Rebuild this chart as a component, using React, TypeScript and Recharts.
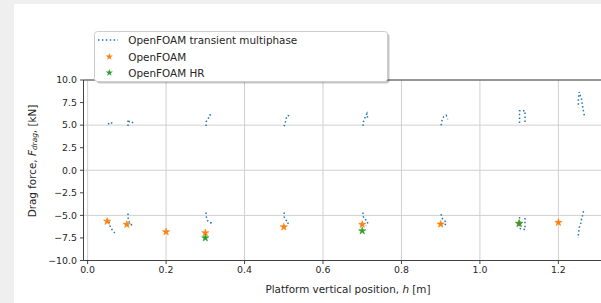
/* Drag force vs platform vertical position — transient multiphase runs vs steady OpenFOAM */

import {
  ScatterChart,
  Scatter,
  XAxis,
  YAxis,
  CartesianGrid,
  ReferenceLine,
} from "recharts";

type Pt = { h: number; f: number };

// transient multiphase traces, upper branch (one short dotted trace per height)
const TRANSIENT_UP_005: Pt[] = [
  { h: 0.0535, f: 5.06 }, { h: 0.0535, f: 5.24 }, { h: 0.062, f: 5.24 }, { h: 0.066, f: 5.17 },
];
const TRANSIENT_UP_010: Pt[] = [
  { h: 0.103, f: 4.91 }, { h: 0.103, f: 5.61 }, { h: 0.107, f: 5.35 }, { h: 0.113, f: 5.24 }, { h: 0.117, f: 5.35 },
];
const TRANSIENT_UP_030: Pt[] = [
  { h: 0.302, f: 4.91 }, { h: 0.302, f: 5.35 }, { h: 0.307, f: 5.73 }, { h: 0.313, f: 6.09 }, { h: 0.31, f: 6.28 },
];
const TRANSIENT_UP_050: Pt[] = [
  { h: 0.501, f: 4.87 }, { h: 0.504, f: 5.35 }, { h: 0.506, f: 5.73 }, { h: 0.51, f: 6.09 }, { h: 0.515, f: 5.98 },
];
const TRANSIENT_UP_070: Pt[] = [
  { h: 0.702, f: 4.91 }, { h: 0.703, f: 5.35 }, { h: 0.707, f: 5.84 }, { h: 0.712, f: 6.28 }, { h: 0.714, f: 5.73 },
];
const TRANSIENT_UP_090: Pt[] = [
  { h: 0.901, f: 4.98 }, { h: 0.903, f: 5.46 }, { h: 0.907, f: 5.9 }, { h: 0.914, f: 6.09 }, { h: 0.918, f: 5.65 },
];
const TRANSIENT_UP_110: Pt[] = [
  { h: 1.101, f: 5.24 }, { h: 1.101, f: 6.59 }, { h: 1.115, f: 6.59 }, { h: 1.115, f: 5.24 },
];
const TRANSIENT_UP_125: Pt[] = [
  { h: 1.266, f: 6.09 }, { h: 1.262, f: 7.0 }, { h: 1.259, f: 7.9 }, { h: 1.253, f: 8.67 }, { h: 1.251, f: 7.8 }, { h: 1.251, f: 6.98 },
];

// transient multiphase traces, lower branch
const TRANSIENT_LO_005: Pt[] = [
  { h: 0.054, f: -5.7 }, { h: 0.058, f: -6.3 }, { h: 0.064, f: -6.7 }, { h: 0.069, f: -6.94 },
];
const TRANSIENT_LO_010: Pt[] = [
  { h: 0.103, f: -4.8 }, { h: 0.103, f: -5.17 }, { h: 0.104, f: -5.54 }, { h: 0.109, f: -6.01 }, { h: 0.115, f: -6.09 }, { h: 0.119, f: -6.01 },
];
const TRANSIENT_LO_030: Pt[] = [
  { h: 0.302, f: -4.68 }, { h: 0.302, f: -5.06 }, { h: 0.304, f: -5.43 }, { h: 0.308, f: -5.73 }, { h: 0.315, f: -5.84 }, { h: 0.312, f: -6.09 },
];
const TRANSIENT_LO_050: Pt[] = [
  { h: 0.501, f: -4.68 }, { h: 0.501, f: -5.17 }, { h: 0.506, f: -5.54 }, { h: 0.512, f: -5.79 }, { h: 0.509, f: -6.01 },
];
const TRANSIENT_LO_070: Pt[] = [
  { h: 0.702, f: -4.68 }, { h: 0.702, f: -5.06 }, { h: 0.705, f: -5.43 }, { h: 0.712, f: -5.54 }, { h: 0.714, f: -5.9 }, { h: 0.71, f: -6.17 },
];
const TRANSIENT_LO_090: Pt[] = [
  { h: 0.901, f: -4.87 }, { h: 0.903, f: -5.28 }, { h: 0.907, f: -5.54 }, { h: 0.914, f: -5.73 }, { h: 0.911, f: -6.09 },
];
const TRANSIENT_LO_110: Pt[] = [
  { h: 1.101, f: -5.17 }, { h: 1.101, f: -6.46 }, { h: 1.115, f: -6.57 }, { h: 1.115, f: -5.28 },
];
const TRANSIENT_LO_125: Pt[] = [
  { h: 1.264, f: -4.54 }, { h: 1.262, f: -4.98 }, { h: 1.259, f: -5.43 }, { h: 1.257, f: -5.9 }, { h: 1.253, f: -6.35 }, { h: 1.252, f: -6.76 }, { h: 1.251, f: -7.12 }, { h: 1.251, f: -7.5 },
];

const TRANSIENT_TRACES: Pt[][] = [
  TRANSIENT_UP_005, TRANSIENT_UP_010, TRANSIENT_UP_030, TRANSIENT_UP_050,
  TRANSIENT_UP_070, TRANSIENT_UP_090, TRANSIENT_UP_110, TRANSIENT_UP_125,
  TRANSIENT_LO_005, TRANSIENT_LO_010, TRANSIENT_LO_030, TRANSIENT_LO_050,
  TRANSIENT_LO_070, TRANSIENT_LO_090, TRANSIENT_LO_110, TRANSIENT_LO_125,
];

// steady OpenFOAM runs
const OF_H = [0.05, 0.1, 0.2, 0.3, 0.5, 0.7, 0.9, 1.1, 1.2];
const OF_F = [-5.66, -6.01, -6.83, -6.94, -6.28, -6.01, -5.98, -5.9, -5.79];

// OpenFOAM HR
const HR_H = [0.3, 0.7, 1.1];
const HR_F = [-7.5, -6.72, -5.9];

const X_TICKS = [0, 0.2, 0.4, 0.6, 0.8, 1.0, 1.2];
const Y_TICKS = [-10, -7.5, -5, -2.5, 0, 2.5, 5, 7.5, 10];

const BLUE = "#1f77b4";
const ORANGE = "#ff7f0e";
const GREEN = "#2ca02c";
const FONT = "DejaVu Sans";
const TEXT = "#262626";
const STAR_R = 3.8;
const LABEL_SIZE = 10.4;

const ofData = OF_H.map((h, i) => ({ h, f: OF_F[i] }));
const hrData = HR_H.map((h, i) => ({ h, f: HR_F[i] }));

const fmt = (v: number) => v.toFixed(1).replace("-", "\u2212");

function starPoints(cx: number, cy: number, ro: number) {
  const ri = ro * 0.382;
  const pts: string[] = [];
  for (let k = 0; k < 10; k++) {
    const r = k % 2 === 0 ? ro : ri;
    const a = -Math.PI / 2 + (k * Math.PI) / 5;
    pts.push(`${cx + r * Math.cos(a)},${cy + r * Math.sin(a)}`);
  }
  return pts.join(" ");
}

const makeStar = (color: string) => (props: any) => {
  const { cx, cy } = props;
  if (cx == null || cy == null) return <g />;
  return <polygon points={starPoints(cx, cy, STAR_R)} fill={color} stroke={color} strokeWidth={0.6} />;
};

const tickStyle = { fill: TEXT, fontSize: 9.4, fontFamily: FONT };

export default function App() {
  return (
    <div
      style={{
        position: "fixed",
        left: 0,
        top: 0,
        width: 601,
        height: 303,
        overflow: "hidden",
        background: "#efefef",
      }}
    >
      <div style={{ position: "absolute", left: 14, top: 4, right: 0, bottom: 0, background: "#fff" }} />
      <div style={{ position: "absolute", left: 0, top: 0 }}>
        <ScatterChart width={640} height={303} margin={{ top: 80, right: 31.8, bottom: 0, left: 0 }}>
          <CartesianGrid stroke="#d0d0d0" strokeWidth={1} />
          <XAxis
            type="number"
            dataKey="h"
            domain={[-0.0105, 1.327]}
            ticks={X_TICKS}
            tickFormatter={fmt}
            height={42.5}
            tick={tickStyle}
            tickSize={3.5}
            tickMargin={2}
            axisLine={{ stroke: "#333", strokeWidth: 0.9 }}
            tickLine={{ stroke: "#333", strokeWidth: 0.9 }}
            allowDataOverflow
          />
          <YAxis
            type="number"
            dataKey="f"
            domain={[-10, 10]}
            ticks={Y_TICKS}
            tickFormatter={fmt}
            width={83.5}
            tick={tickStyle}
            tickSize={3.5}
            tickMargin={3}
            axisLine={{ stroke: "#333", strokeWidth: 0.9 }}
            tickLine={{ stroke: "#333", strokeWidth: 0.9 }}
            allowDataOverflow
          />
          <ReferenceLine y={10} stroke="#333" strokeWidth={0.9} />
          {TRANSIENT_TRACES.map((trace, i) => (
            <Scatter
              key={`tr${i}`}
              data={trace}
              isAnimationActive={false}
              line={{ stroke: BLUE, strokeWidth: 1.5, strokeDasharray: "1.5 2.4", strokeLinecap: "butt" }}
              lineType="joint"
              shape={() => <g />}
            />
          ))}
          <Scatter data={ofData} isAnimationActive={false} shape={makeStar(ORANGE)} />
          <Scatter data={hrData} isAnimationActive={false} shape={makeStar(GREEN)} />
        </ScatterChart>
      </div>
      <svg
        width={601}
        height={303}
        style={{ position: "absolute", left: 0, top: 0, fontFamily: FONT }}
      >
        {/* legend box with shadow */}
        <rect x={96.5} y={33.5} width={293} height={50} rx={3} fill="#000" fillOpacity={0.22} />
        <rect x={94.5} y={31.5} width={293} height={50} rx={3} fill="#fff" stroke="#cccccc" />
        <line x1={98} y1={40} x2={118} y2={40} stroke={BLUE} strokeWidth={1.5} strokeDasharray="1.5 2.4" />
        <polygon points={starPoints(109.3, 56.7, STAR_R)} fill={ORANGE} />
        <polygon points={starPoints(109.3, 72.7, STAR_R)} fill={GREEN} />
        <text x={128.3} y={40} fontSize={LABEL_SIZE} fill={TEXT} dominantBaseline="central">
          OpenFOAM transient multiphase
        </text>
        <text x={128.3} y={56.7} fontSize={LABEL_SIZE} fill={TEXT} dominantBaseline="central">
          OpenFOAM
        </text>
        <text x={128.3} y={72.7} fontSize={LABEL_SIZE} fill={TEXT} dominantBaseline="central">
          OpenFOAM HR
        </text>
        {/* axis titles */}
        <text x={348} y={289} fontSize={LABEL_SIZE} fill={TEXT} textAnchor="middle" dominantBaseline="central">
          Platform vertical position, <tspan fontStyle="italic">h</tspan> [m]
        </text>
        <text
          x={31.7}
          y={161}
          fontSize={LABEL_SIZE}
          fill={TEXT}
          textAnchor="middle"
          dominantBaseline="central"
          transform="rotate(-90, 31.7, 161)"
        >
          Drag force, <tspan fontStyle="italic">F</tspan>
          <tspan fontStyle="italic" fontSize={7.4} dy={2.6}>drag</tspan>
          <tspan dy={-2.6}>, [kN]</tspan>
        </text>
      </svg>
    </div>
  );
}
